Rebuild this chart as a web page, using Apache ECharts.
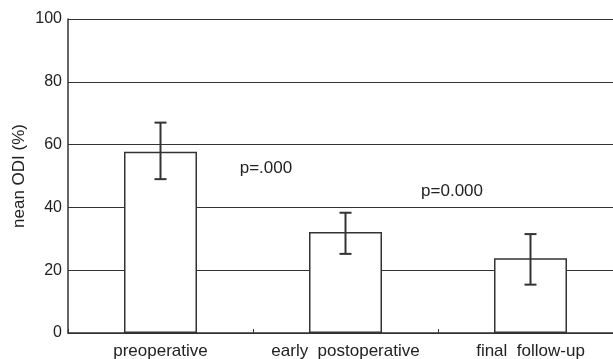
<!DOCTYPE html>
<html><head><meta charset="utf-8">
<script src="https://cdn.jsdelivr.net/npm/echarts@6/dist/echarts.min.js"></script>
<style>html,body{margin:0;padding:0;background:#fff;overflow:hidden}#c{width:623px;height:359px}</style>
</head><body><div id="c"></div>
<script>
const categories = ['preoperative', 'early  postoperative', 'final  follow-up'];
const meanODI = [57.7, 32.2, 23.8];
const errLow = [49, 25.2, 15.4];
const errHigh = [67, 38.3, 31.5];
const yTicks = [0, 20, 40, 60, 80, 100];
const pLabels = [
  {text: 'p=.000', from: 0, frac: 0.57, value: 52.5},
  {text: 'p=0.000', from: 1, frac: 0.576, value: 45.2}
];
const font = 'Liberation Sans, Arial, sans-serif';
const chart = echarts.init(document.getElementById('c'));
const option = {
  animation: false,
  grid: {left: 68, right: 0, top: 19, bottom: 26, containLabel: false, outerBoundsMode: 'none'},
  xAxis: {
    type: 'category', data: categories,
    axisLine: {lineStyle: {color: '#333', width: 1.5}},
    axisTick: {show: true, inside: true, length: 4, lineStyle: {color: '#333'}},
    axisLabel: {color: '#222', fontSize: 17, fontFamily: font, margin: 10, interval: 0},
    splitLine: {show: false}
  },
  yAxis: {
    type: 'value', min: 0, max: 100, interval: 20,
    name: 'nean ODI (%)', nameLocation: 'middle', nameGap: 40, nameMoveOverlap: false,
    nameTextStyle: {color: '#222', fontSize: 17, fontFamily: font},
    axisLine: {show: true, lineStyle: {color: '#333', width: 1.5}},
    axisTick: {show: false},
    axisLabel: {color: '#222', fontSize: 16, fontFamily: font, margin: 6,
      formatter: v => yTicks.includes(v) ? String(v) : ''},
    splitLine: {show: true, lineStyle: {color: '#333', width: 1.2}}
  },
  series: [
    {type: 'bar', data: meanODI, barWidth: 73,
     itemStyle: {color: '#fff', borderColor: '#333', borderWidth: 1.5}, z: 3},
    {type: 'custom', z: 4,
     data: categories.map((c, i) => [i, errLow[i], errHigh[i]]),
     renderItem: (params, api) => {
       const lo = api.coord([api.value(0), api.value(1)]);
       const hi = api.coord([api.value(0), api.value(2)]);
       const hw = 6;
       const st = {stroke: '#333', lineWidth: 2};
       return {type: 'group', children: [
         {type: 'line', shape: {x1: lo[0], y1: lo[1], x2: hi[0], y2: hi[1]}, style: st},
         {type: 'line', shape: {x1: lo[0]-hw, y1: lo[1], x2: lo[0]+hw, y2: lo[1]}, style: st},
         {type: 'line', shape: {x1: hi[0]-hw, y1: hi[1], x2: hi[0]+hw, y2: hi[1]}, style: st}
       ]};
     }}
  ]
};
chart.setOption(option);
const g = pLabels.map(p => {
  const a = chart.convertToPixel({gridIndex: 0}, [p.from, p.value]);
  const b = chart.convertToPixel({gridIndex: 0}, [p.from + 1, p.value]);
  return {type: 'text', x: a[0] + (b[0] - a[0]) * p.frac, y: a[1],
    style: {text: p.text, fill: '#222', fontSize: 17, fontFamily: font, align: 'center', verticalAlign: 'middle'}, z: 10};
});
chart.setOption({graphic: g});
</script></body></html>
